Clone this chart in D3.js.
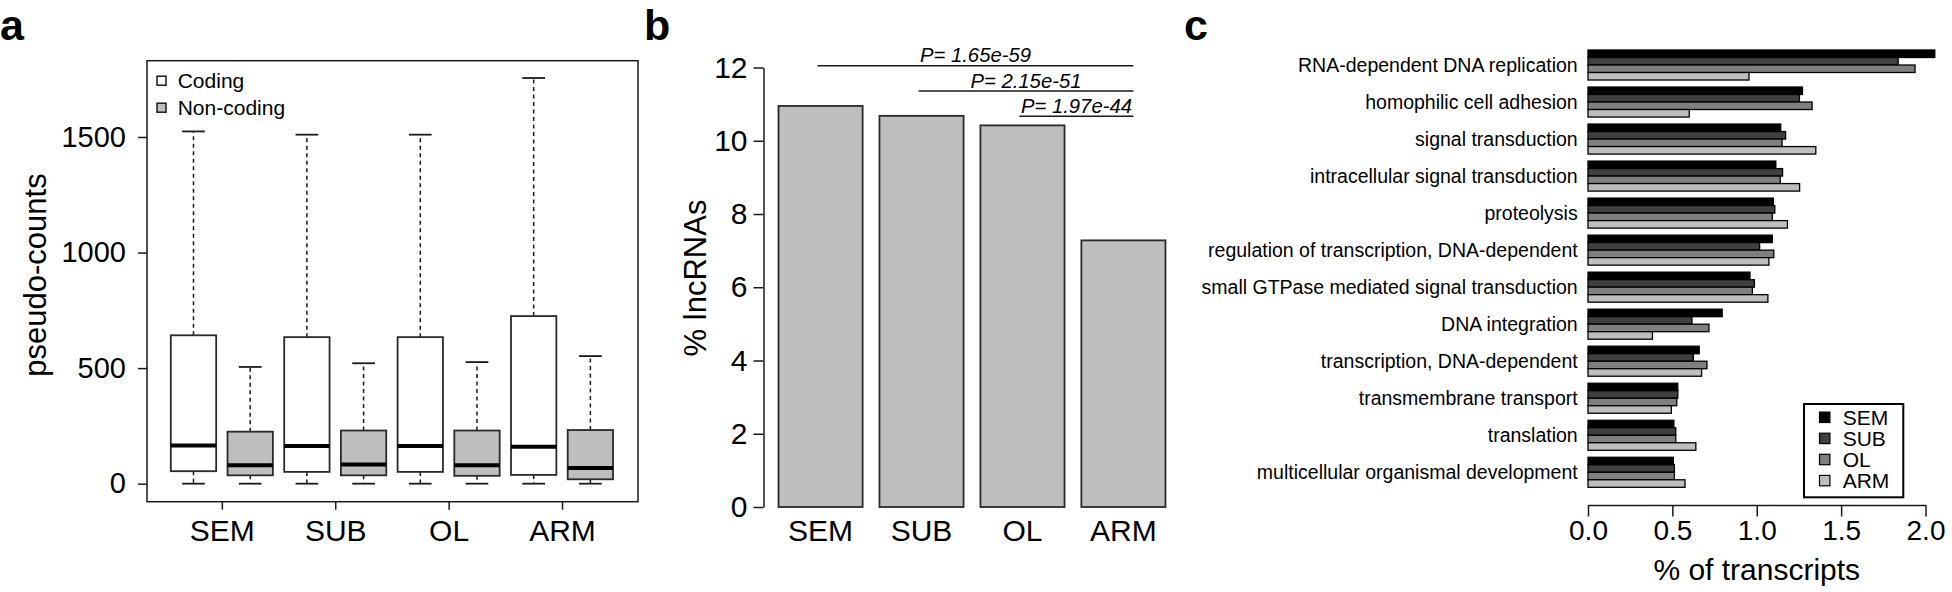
<!DOCTYPE html>
<html><head><meta charset="utf-8">
<script src="https://cdn.jsdelivr.net/npm/d3@7"></script>
<style>
body{margin:0;background:#fff}
svg{display:block}
text{font-family:"Liberation Sans",Arial,Helvetica,sans-serif;fill:#000}
</style>
</head><body>
<svg id="fig" width="1952" height="592"></svg>
<script>
// ---------- Panel a data ----------
const groupsA = ["SEM", "SUB", "OL", "ARM"];
const boxTypes = ["Coding", "Non-coding"];
// [lower whisker, Q1, median, Q3, upper whisker]
const codingStats = [
  [0, 54, 165, 642, 1524],
  [0, 51, 163, 634, 1510],
  [0, 51, 163, 634, 1510],
  [0, 38, 160, 725, 1755]
];
const noncodingStats = [
  [0, 36, 80, 225, 505],
  [0, 36, 83, 230, 521],
  [0, 34, 80, 230, 526],
  [0, 19, 68, 232, 552]
];
const yTicksA = [0, 500, 1000, 1500];

// ---------- Panel b data ----------
const groupsB = ["SEM", "SUB", "OL", "ARM"];
const lncPct = [10.95, 10.68, 10.42, 7.28];
const yTicksB = [0, 2, 4, 6, 8, 10, 12];
const pFrom = ["SEM", "SUB", "OL"];
const pTo = ["ARM", "ARM", "ARM"];
const pLabels = ["P= 1.65e-59", "P= 2.15e-51", "P= 1.97e-44"];
const pLevels = [12.05, 11.36, 10.67];

// ---------- Panel c data ----------
const goTerms = [
  "RNA-dependent DNA replication",
  "homophilic cell adhesion",
  "signal transduction",
  "intracellular signal transduction",
  "proteolysis",
  "regulation of transcription, DNA-dependent",
  "small GTPase mediated signal transduction",
  "DNA integration",
  "transcription, DNA-dependent",
  "transmembrane transport",
  "translation",
  "multicellular organismal development"
];
const seriesC = ["SEM", "SUB", "OL", "ARM"];
const semVals = [2.055, 1.271, 1.142, 1.113, 1.098, 1.092, 0.960, 0.795, 0.659, 0.532, 0.509, 0.506];
const subVals = [1.838, 1.253, 1.171, 1.153, 1.107, 1.017, 0.986, 0.616, 0.624, 0.532, 0.520, 0.512];
const olVals  = [1.938, 1.328, 1.150, 1.139, 1.092, 1.101, 0.974, 0.717, 0.705, 0.526, 0.520, 0.512];
const armVals = [0.954, 0.600, 1.350, 1.254, 1.182, 1.072, 1.066, 0.382, 0.673, 0.494, 0.639, 0.575];
const xTicksC = [0, 0.5, 1.0, 1.5, 2.0];
const seriesColors = ["#000000", "#404040", "#7f7f7f", "#bebebe"];

const svg = d3.select("#fig");
const INK = "#1a1a1a";

function styleAxis(g, fontSize) {
  g.selectAll("path").attr("stroke", INK).attr("stroke-width", 1.5);
  g.selectAll("line").attr("stroke", INK).attr("stroke-width", 1.5);
  g.selectAll("text").attr("font-size", fontSize).attr("fill", "#000")
    .style("font-family", '"Liberation Sans",Arial,sans-serif');
}

// Panel labels
[["a", 0, 40], ["b", 644, 40], ["c", 1184, 40]].forEach(([t, x, y]) => {
  svg.append("text").attr("x", x).attr("y", y).attr("font-size", 43)
    .attr("font-weight", "bold").text(t);
});

// ================= Panel a =================
{
  const g = svg.append("g");
  const left = 147, right = 638, top = 60.7, bottom = 501.7;
  const x = d3.scaleLinear().domain([0.18, 8.84]).range([left, right]);
  const y = d3.scaleLinear().domain([-78, 1830]).range([bottom, top]);
  const boxW = x(0.8) - x(0);
  const capW = x(0.4) - x(0);

  const boxes = [];
  groupsA.forEach((grp, i) => {
    boxes.push({pos: 2 * i + 1, s: codingStats[i], fill: "#ffffff"});
    boxes.push({pos: 2 * i + 2, s: noncodingStats[i], fill: "#bebebe"});
  });

  boxes.forEach(b => {
    const cx = x(b.pos);
    const [lo, q1, med, q3, hi] = b.s;
    g.append("line").attr("x1", cx).attr("x2", cx).attr("y1", y(q3)).attr("y2", y(hi))
      .attr("stroke", INK).attr("stroke-width", 1.5).attr("stroke-dasharray", "4,3.5");
    g.append("line").attr("x1", cx).attr("x2", cx).attr("y1", y(q1)).attr("y2", y(lo))
      .attr("stroke", INK).attr("stroke-width", 1.5).attr("stroke-dasharray", "4,3.5");
    [lo, hi].forEach(v => {
      g.append("line").attr("x1", cx - capW / 2).attr("x2", cx + capW / 2)
        .attr("y1", y(v)).attr("y2", y(v)).attr("stroke", INK).attr("stroke-width", 1.8);
    });
    g.append("rect").attr("x", cx - boxW / 2).attr("width", boxW)
      .attr("y", y(q3)).attr("height", y(q1) - y(q3))
      .attr("fill", b.fill).attr("stroke", "#2a2a2a").attr("stroke-width", 1.8);
    g.append("line").attr("x1", cx - boxW / 2).attr("x2", cx + boxW / 2)
      .attr("y1", y(med)).attr("y2", y(med)).attr("stroke", "#000").attr("stroke-width", 4);
  });

  g.append("rect").attr("x", left).attr("y", top).attr("width", right - left)
    .attr("height", bottom - top).attr("fill", "none").attr("stroke", INK).attr("stroke-width", 1.5);

  const ya = g.append("g").attr("transform", `translate(${left},0)`)
    .call(d3.axisLeft(y).tickValues(yTicksA).tickFormat(d3.format("d"))
      .tickSize(9).tickPadding(12).tickSizeOuter(0));
  ya.select(".domain").remove();
  styleAxis(ya, 29);

  const xa = g.append("g").attr("transform", `translate(0,${bottom})`)
    .call(d3.axisBottom(x).tickValues(groupsA.map((d, i) => 2 * i + 1.5))
      .tickFormat((d, i) => groupsA[i]).tickSize(8).tickPadding(10).tickSizeOuter(0));
  xa.select(".domain").remove();
  styleAxis(xa, 30);

  g.append("text").attr("transform", "translate(46,275) rotate(-90)")
    .attr("text-anchor", "middle").attr("font-size", 31).text("pseudo-counts");

  const legFill = ["#ffffff", "#bebebe"];
  boxTypes.forEach((t, i) => {
    const cy = 80.7 + i * 27;
    g.append("rect").attr("x", 157).attr("y", cy - 4.5).attr("width", 9).attr("height", 9)
      .attr("fill", legFill[i]).attr("stroke", INK).attr("stroke-width", 1.5);
    g.append("text").attr("x", 177.7).attr("y", cy + 7.5).attr("font-size", 21).text(t);
  });
}

// ================= Panel b =================
{
  const g = svg.append("g");
  const x = d3.scaleBand().domain(groupsB).range([770.1, 1173.9])
    .paddingInner(1 / 6).paddingOuter(1 / 12);
  const y = d3.scaleLinear().domain([0, 12]).range([507, 67.5]);

  g.selectAll("rect.bar").data(lncPct).join("rect")
    .attr("x", (d, i) => x(groupsB[i])).attr("width", x.bandwidth())
    .attr("y", d => y(d)).attr("height", d => y(0) - y(d))
    .attr("fill", "#bebebe").attr("stroke", "#2a2a2a").attr("stroke-width", 1.8);

  const ya = g.append("g").attr("transform", "translate(763.5,0)")
    .call(d3.axisLeft(y).tickValues(yTicksB).tickSize(10).tickPadding(6).tickSizeOuter(0));
  styleAxis(ya, 30);

  const xa = g.append("g").attr("transform", `translate(0,${y(0)})`)
    .call(d3.axisBottom(x).tickSize(0).tickPadding(12.5));
  xa.select(".domain").remove();
  styleAxis(xa, 30);

  g.append("text").attr("transform", "translate(706,278) rotate(-90)")
    .attr("text-anchor", "middle").attr("font-size", 31).text("% lncRNAs");

  pLabels.forEach((lab, i) => {
    const x1 = x(pFrom[i]) + x.bandwidth() / 2 - 3;
    const x2 = x(pTo[i]) + x.bandwidth() / 2 + 10;
    const yy = y(pLevels[i]);
    g.append("line").attr("x1", x1).attr("x2", x2).attr("y1", yy).attr("y2", yy)
      .attr("stroke", INK).attr("stroke-width", 1.5);
    g.append("text").attr("x", (x1 + x2) / 2).attr("y", yy - 3.4)
      .attr("text-anchor", "middle").attr("font-size", 20.3).attr("font-style", "italic").text(lab);
  });
}

// ================= Panel c =================
{
  const g = svg.append("g");
  const x = d3.scaleLinear().domain([0, 2]).range([1588, 1925.5]);
  const yG = d3.scaleBand().domain(goTerms).range([46.5, 490.8])
    .paddingInner(7 / 37).paddingOuter(3.5 / 37);
  const yS = d3.scaleBand().domain(seriesC).range([0, yG.bandwidth()]);
  const allVals = [semVals, subVals, olVals, armVals];

  goTerms.forEach((term, i) => {
    const gy = yG(term);
    seriesC.forEach((s, j) => {
      const v = allVals[j][i];
      g.append("rect").attr("x", x(0)).attr("y", gy + yS(s))
        .attr("width", x(v) - x(0)).attr("height", yS.bandwidth())
        .attr("fill", seriesColors[j]).attr("stroke", "#000").attr("stroke-width", 1.3);
    });
    g.append("text").attr("x", 1577.7).attr("y", gy + yG.bandwidth() / 2 + 7.2)
      .attr("text-anchor", "end").attr("font-size", 19.5).text(term);
  });

  const xa = g.append("g").attr("transform", "translate(0,505)")
    .call(d3.axisBottom(x).tickValues(xTicksC).tickFormat(d3.format(".1f"))
      .tickSize(11.5).tickPadding(4).tickSizeOuter(0));
  styleAxis(xa, 28);

  g.append("text").attr("x", x(1)).attr("y", 580).attr("text-anchor", "middle")
    .attr("font-size", 30).text("% of transcripts");

  g.append("rect").attr("x", 1804).attr("y", 404).attr("width", 99.3).attr("height", 93.3)
    .attr("fill", "#fff").attr("stroke", "#000").attr("stroke-width", 2);
  seriesC.forEach((s, j) => {
    const cy = 417.3 + j * 21.1;
    g.append("rect").attr("x", 1819.5).attr("y", cy - 5.2).attr("width", 10.4).attr("height", 10.4)
      .attr("fill", seriesColors[j]).attr("stroke", "#000").attr("stroke-width", 1.2);
    g.append("text").attr("x", 1842.7).attr("y", cy + 7.6).attr("font-size", 21).text(s);
  });
}
</script>
</body></html>
